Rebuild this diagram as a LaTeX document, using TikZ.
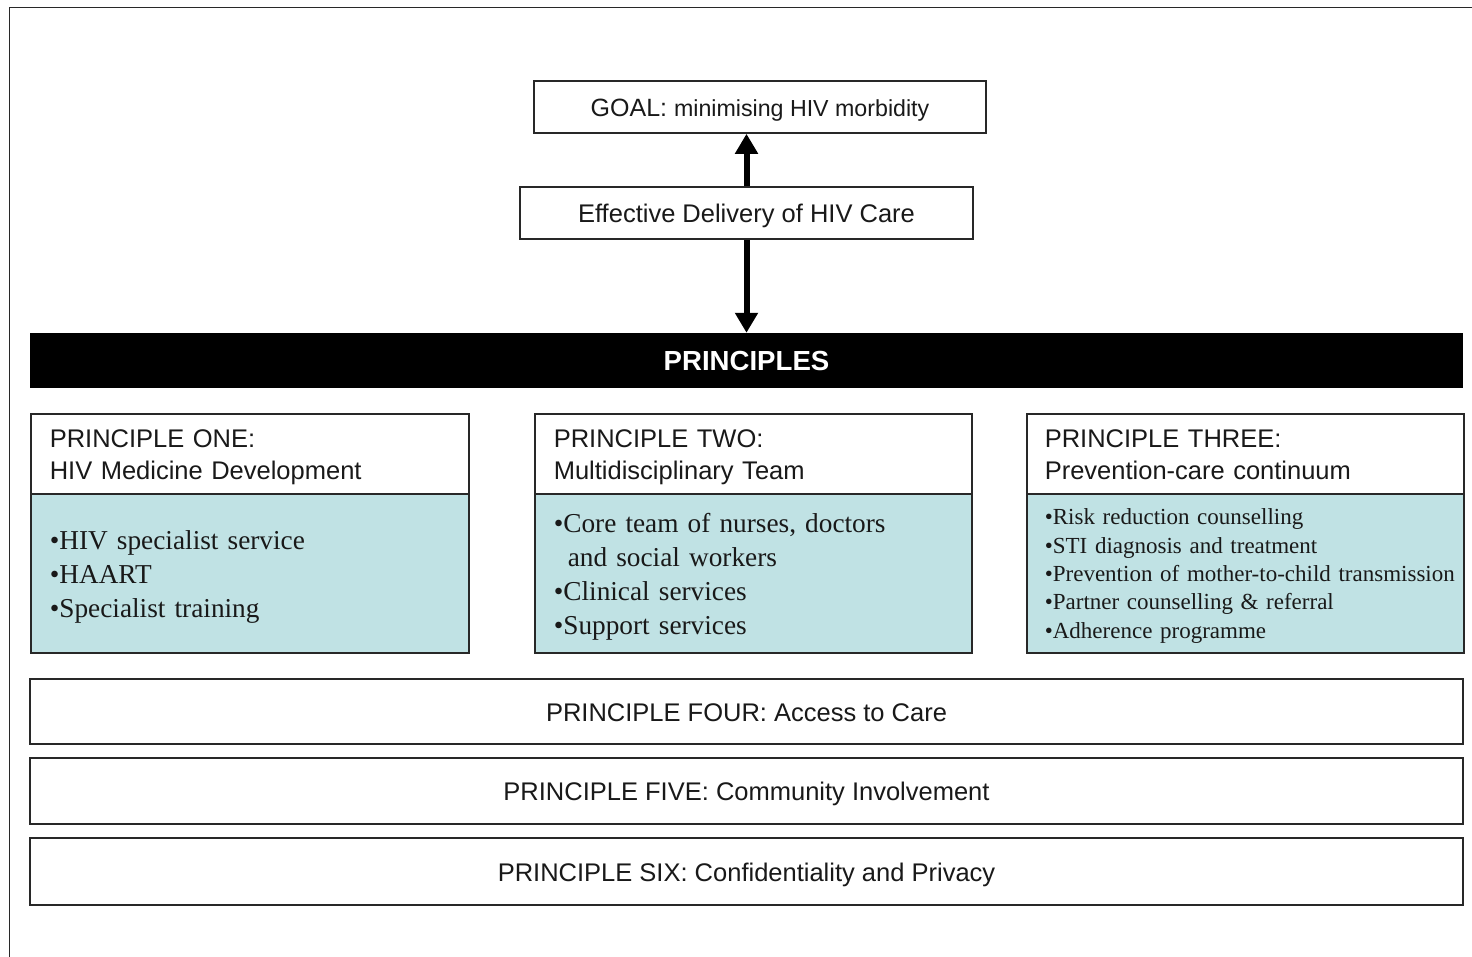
\documentclass[tikz,border=0pt]{standalone}
\usepackage{fontspec}
\setmainfont{Liberation Serif}
\setsansfont{Liberation Sans}
\usetikzlibrary{arrows.meta}
\definecolor{boxblue}{RGB}{192,226,228}
\definecolor{edge}{RGB}{40,40,40}
\definecolor{ink}{RGB}{25,25,25}
\newcommand{\topstrut}[1]{\rule{0pt}{#1}}
\newcommand{\botstrut}{\rule[-6pt]{0pt}{0pt}}
\tikzset{
  frame/.style={draw=edge, line width=1.6pt},
  topbox/.style={frame, fill=white, inner sep=0pt, minimum height=52pt, text=ink,
     text height=24pt, text depth=5pt,
     font=\sffamily\fontsize{25.5}{30}\selectfont},
  headbox/.style={frame, fill=white, anchor=north west, inner xsep=19pt, inner ysep=0pt,
     minimum height=80pt, text width=400pt, align=left, text=ink,
     font=\sffamily\fontsize{25.5}{32}\selectfont},
  bodybox/.style={frame, fill=boxblue, anchor=north west, inner xsep=19pt, inner ysep=0pt,
     minimum height=159pt, text width=400pt, align=left, text=ink,
     font=\rmfamily\fontsize{27.3}{34}\selectfont},
  widebox/.style={frame, fill=white, inner sep=0pt, minimum width=1433pt, text=ink,
     text height=24pt, text depth=5pt,
     font=\sffamily\fontsize{25.5}{30}\selectfont},
  bigarrow/.style={line width=6pt, -{Triangle[width=22pt,length=20pt]}, black}
}
\begin{document}
\begin{tikzpicture}[x=1pt,y=-1pt]
\useasboundingbox (0,0) rectangle (1472,956);
\clip (0,0) rectangle (1472,956);
\fill[white] (0,0) rectangle (1472,956);
\draw[edge, line width=1.6pt] (9.5,7.5) rectangle (1500,990);

\node[topbox, minimum width=452pt] (goal) at (760,107)
  {\fontsize{25}{30}\selectfont GOAL: \fontsize{23.2}{30}\selectfont minimising HIV morbidity};
\node[topbox, minimum width=453pt] (eff) at (746.5,213) {Effective Delivery of HIV Care};

\node[fill=black, text=white, inner sep=0pt, minimum width=1433pt, minimum height=55pt,
  text height=21pt, text depth=1pt,
  font=\sffamily\bfseries\fontsize{27.6}{30}\selectfont] (princ) at (746.5,360.5) {PRINCIPLES};

\draw[bigarrow] (eff.north) -- (eff.north |- goal.south);
\draw[bigarrow] (eff.south) -- (eff.south |- princ.north);

% Principle one
\node[headbox, minimum width=438pt] (h1) at (30,413)
  {\topstrut{24.5pt}PRINCIPLE ONE:\\HIV Medicine Development\botstrut};
\node[bodybox, minimum width=438pt] (b1) at (30,493)
  {\topstrut{25.5pt}\textbullet HIV specialist service\\\textbullet HAART\\\textbullet Specialist training};

% Principle two
\node[headbox, minimum width=437pt, text width=399pt] (h2) at (534,413)
  {\topstrut{24.5pt}PRINCIPLE TWO:\\Multidisciplinary Team\botstrut};
\node[bodybox, minimum width=437pt, text width=399pt] (b2) at (534,493)
  {\topstrut{25.5pt}\textbullet Core team of nurses, doctors\\\hspace*{14pt}and social workers\\\textbullet Clinical services\\\textbullet Support services};

% Principle three
\node[headbox, minimum width=437pt, inner xsep=18pt, text width=401pt] (h3) at (1026,413)
  {\topstrut{24.5pt}PRINCIPLE THREE:\\Prevention-care continuum\botstrut};
\node[bodybox, minimum width=437pt, inner xsep=18pt, text width=401pt,
  font=\rmfamily\fontsize{23}{28.3}\selectfont] (b3) at (1026,493)
  {\topstrut{21.5pt}\mbox{\textbullet Risk reduction counselling}\\\mbox{\textbullet STI diagnosis and treatment}\\\mbox{\textbullet Prevention of mother-to-child transmission}\\\mbox{\textbullet Partner counselling \& referral}\\\mbox{\textbullet Adherence programme}};

% Principles four to six
\node[widebox, minimum height=65pt] (p4) at (746.5,711.5) {PRINCIPLE FOUR: Access to Care};
\node[widebox, minimum height=66pt] (p5) at (746.5,791) {PRINCIPLE FIVE: Community Involvement};
\node[widebox, minimum height=67pt] (p6) at (746.5,871.5) {PRINCIPLE SIX: Confidentiality and Privacy};
\end{tikzpicture}
\end{document}
